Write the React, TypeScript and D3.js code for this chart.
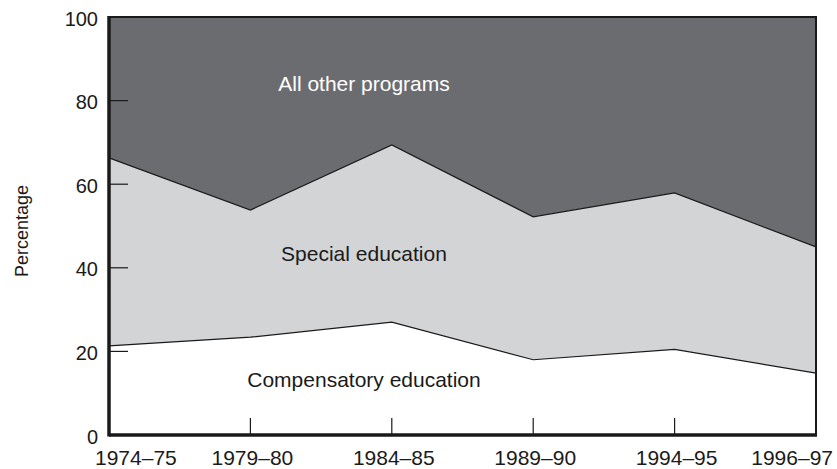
import React from "react";
import * as d3 from "d3";

const categories = ["1974–75", "1979–80", "1984–85", "1989–90", "1994–95", "1996–97"];
const compensatory = [21.3, 23.4, 27.0, 18.0, 20.5, 14.8];
const special = [45.0, 30.4, 42.4, 34.2, 37.4, 30.2];
const other = categories.map((_, i) => 100 - compensatory[i] - special[i]);
const yTicks = [0, 20, 40, 60, 80, 100];
const seriesKeys = ["compensatory", "special", "other"];
const seriesColors = ["#ffffff", "#d3d4d6", "#6b6c70"];
const seriesLabels = ["Compensatory education", "Special education", "All other programs"];

export default function App() {
  const W = 837, H = 469;
  const left = 109, right = 816, top = 17, bottom = 435;
  const x = d3.scalePoint<string>().domain(categories).range([left, right]);
  const y = d3.scaleLinear().domain([0, 100]).range([bottom, top]);
  const rows = categories.map((c, i) => ({ cat: c, compensatory: compensatory[i], special: special[i], other: other[i] }));
  const stacked = d3.stack<any>().keys(seriesKeys)(rows);
  const area = d3.area<any>().x((d) => x(d.data.cat)!).y0((d) => y(d[0])).y1((d) => y(d[1]));
  const line = d3.line<any>().x((d) => x(d.data.cat)!).y((d) => y(d[1]));
  const labelBase = [387, 261, 91];
  const font = "Liberation Sans, Arial, sans-serif";
  const n = categories.length;
  return (
    <svg width={W} height={H} style={{ position: "absolute", left: 0, top: 0 }} fontFamily={font}>
      <rect width={W} height={H} fill="#fff" />
      {stacked.map((s, i) => (
        <path key={s.key} d={area(s as any)!} fill={seriesColors[i]} />
      ))}
      {stacked.slice(0, 2).map((s) => (
        <path key={"l" + s.key} d={line(s as any)!} fill="none" stroke="#1a1a1a" strokeWidth={1.2} />
      ))}
      {seriesLabels.map((t, i) => (
        <text key={t} x={364} y={labelBase[i]} fontSize={21} textAnchor="middle" fill={i === 2 ? "#fff" : "#1a1a1a"}>{t}</text>
      ))}
      {yTicks.slice(1, 5).map((t) => (
        <line key={"yt" + t} x1={left} x2={left + 19} y1={y(t)} y2={y(t)} stroke="#1a1a1a" strokeWidth={1.2} />
      ))}
      {yTicks.map((t) => (
        <text key={"yl" + t} x={98} y={y(t) + 8.5} fontSize={20} textAnchor="end" fill="#1a1a1a">{t}</text>
      ))}
      {categories.slice(1, n - 1).map((c) => (
        <line key={"xt" + c} x1={x(c)!} x2={x(c)!} y1={bottom} y2={bottom - 17} stroke="#1a1a1a" strokeWidth={1.2} />
      ))}
      {categories.map((c, i) => (
        <text
          key={"xl" + c}
          x={i === 0 ? 95 : i === n - 1 ? 833 : x(c)! + 2}
          y={465}
          fontSize={21}
          textAnchor={i === 0 ? "start" : i === n - 1 ? "end" : "middle"}
          fill="#1a1a1a"
        >
          {c}
        </text>
      ))}
      <line x1={left} x2={right + 1} y1={top} y2={top} stroke="#1a1a1a" strokeWidth={2} />
      <line x1={right} x2={right} y1={top} y2={bottom} stroke="#1a1a1a" strokeWidth={2} />
      <line x1={left} x2={right + 1} y1={bottom} y2={bottom} stroke="#1a1a1a" strokeWidth={3.5} />
      <line x1={left} x2={left} y1={top - 1} y2={bottom + 1.5} stroke="#1a1a1a" strokeWidth={3.5} />
      <text transform={`translate(28,231) rotate(-90)`} fontSize={18} textAnchor="middle" fill="#1a1a1a">Percentage</text>
    </svg>
  );
}
